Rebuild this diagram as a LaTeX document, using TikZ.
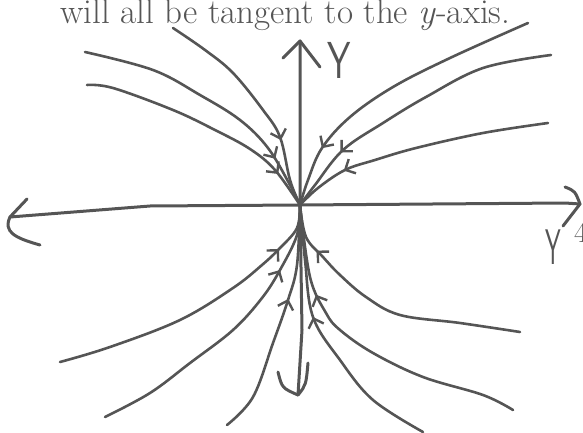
\documentclass[tikz,border=0pt]{standalone}
\usepackage{tikz}
\usetikzlibrary{arrows.meta, decorations.markings}

\definecolor{ink}{RGB}{85,85,85}

\begin{document}
\begin{tikzpicture}[
    x=1pt, y=-1pt,
    every node/.style={text=ink, inner sep=0pt},
    pen/.style={color=ink, line width=2.6pt, line cap=round, line join=round},
    axis/.style={pen, line width=3pt},
    orbit/.style={pen, postaction={decorate},
        decoration={markings, mark=at position #1 with {\arrow{Straight Barb[length=8pt, width=16pt, line width=2.4pt]}}}},
    handy/.style={font=\fontsize{#1}{#1}\selectfont\sffamily}
]
    \useasboundingbox (0,0) rectangle (583,433);

    % caption line (cut off above)
    \node[anchor=base west, font=\fontsize{35}{40}\selectfont] (caption) at (60,24) {will all be tangent to the \textit{y}-axis.};
    \node[anchor=base west, font=\fontsize{29}{29}\selectfont] (page) at (574,242) {4};

    \coordinate (O) at (300,205);

    % axes
    \coordinate (ytop) at (300,41);
    \coordinate (ybot) at (298,395);
    \coordinate (xleft) at (10,217);
    \coordinate (xright) at (580,204);

    \draw[axis] (ybot) -- (302,330) -- (O) -- (ytop);
    \draw[axis] (283,58) -- (ytop) -- (320,67);
    \draw[axis] (278,372) .. controls (282,388) .. (ybot) .. controls (306,385) .. (308,363);

    \draw[axis] (xleft) -- (150,206) -- (O) -- (565,203) -- (xright);
    \draw[axis] (27,199) -- (xleft) .. controls (3,232) and (15,238) .. (40,245);
    \draw[axis] (565,187) .. controls (575,191) .. (xright) -- (563,226);

    \node[handy=52] (ylabel) at (339,60) {\scalebox{0.72}[1]{Y}};
    \node[handy=50] (xlabel) at (553,247) {\scalebox{0.5}[1]{Y}};

    % upper left orbits
    \draw[orbit=0.70] plot[smooth, tension=0.6] coordinates {(173,28) (205,50) (233,73) (263,110) (280,137) (290,180) (O)};
    \draw[orbit=0.81] plot[smooth, tension=0.6] coordinates {(85,52) (153,70) (200,95) (240,120) (268,148) (290,185) (O)};
    \draw[orbit=0.85] plot[smooth, tension=0.6] coordinates {(87,85) (113,88) (173,110) (215,130) (250,149) (275,170) (O)};

    % upper right orbits
    \draw[orbit=0.80] plot[smooth, tension=0.6] coordinates {(528,23) (450,58) (393,87) (350,117) (322,148) (308,180) (O)};
    \draw[orbit=0.78] plot[smooth, tension=0.6] coordinates {(551,55) (483,68) (426,97) (383,123) (343,150) (315,185) (O)};
    \draw[orbit=0.79] plot[smooth, tension=0.6] coordinates {(548,123) (483,133) (416,148) (375,160) (345,170) (318,188) (O)};

    % lower left orbits
    \draw[orbit=0.83] plot[smooth, tension=0.6] coordinates {(60,362) (110,347) (180,320) (233,288) (262,265) (280,248) (297,228) (O)};
    \draw[orbit=0.77] plot[smooth, tension=0.6] coordinates {(105,417) (150,393) (190,363) (233,330) (262,298) (280,270) (297,235) (O)};
    \draw[orbit=0.60] plot[smooth, tension=0.6] coordinates {(227,425) (253,397) (273,343) (288,300) (297,265) (O)};

    % lower right orbits
    \draw[orbit=0.82] plot[smooth, tension=0.6] coordinates {(520,332) (460,323) (400,315) (366,297) (340,275) (323,257) (306,237) (O)};
    \draw[orbit=0.72] plot[smooth, tension=0.6] coordinates {(513,410) (483,395) (423,377) (373,353) (340,330) (326,313) (310,277) (O)};
    \draw[orbit=0.59] plot[smooth, tension=0.6] coordinates {(423,432) (373,400) (340,360) (313,317) (305,260) (O)};

\end{tikzpicture}
\end{document}
